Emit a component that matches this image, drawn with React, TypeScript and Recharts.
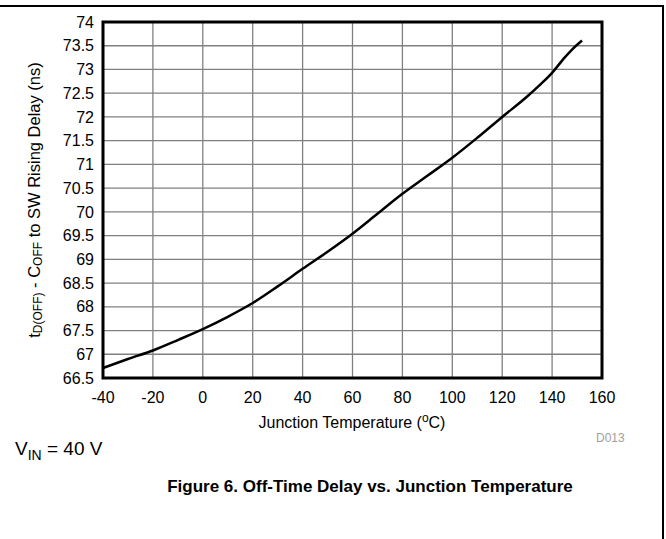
import React from "react";
import {
  LineChart,
  Line,
  XAxis,
  YAxis,
  CartesianGrid,
  ReferenceArea,
  Label,
} from "recharts";

// Off-time delay vs junction temperature
const temps = [-40, -30, -20, -10, 0, 10, 20, 30, 40, 50, 60, 70, 80, 90, 100, 110, 120, 130, 135, 140, 145, 148, 152];
const delays = [66.71, 66.9, 67.08, 67.3, 67.53, 67.79, 68.08, 68.43, 68.8, 69.16, 69.54, 69.96, 70.38, 70.76, 71.14, 71.56, 72.0, 72.43, 72.67, 72.93, 73.25, 73.42, 73.61];

const xTicks = [-40, -20, 0, 20, 40, 60, 80, 100, 120, 140, 160];
const yTicks = [66.5, 67, 67.5, 68, 68.5, 69, 69.5, 70, 70.5, 71, 71.5, 72, 72.5, 73, 73.5, 74];

const data = temps.map((t, i) => ({ t, d: delays[i] }));

const FONT = "'Liberation Sans', Arial, sans-serif";

function YTitle(props: any) {
  const vb = props.viewBox || { x: 0, y: 0, width: 0, height: 0 };
  const cx = vb.x + 34;
  const cy = vb.y + vb.height / 2;
  return (
    <text
      x={cx}
      y={cy}
      transform={`rotate(-90, ${cx}, ${cy})`}
      textAnchor="middle"
      dominantBaseline="central"
      fontFamily={FONT}
      fontSize={16.5}
      fill="#000"
    >
      <tspan>t</tspan>
      <tspan fontSize={12} dy={4}>D(OFF)</tspan>
      <tspan dy={-4}> - C</tspan>
      <tspan fontSize={12} dy={4}>OFF</tspan>
      <tspan dy={-4}> to SW Rising Delay (ns)</tspan>
    </text>
  );
}

export default function App() {
  return (
    <div
      style={{
        position: "absolute",
        left: 0,
        top: 0,
        width: 666,
        height: 539,
        background: "#fff",
        fontFamily: FONT,
        overflow: "hidden",
      }}
    >
      {/* page frame */}
      <div style={{ position: "absolute", left: 0, top: 5, width: 664, height: 2, background: "#000" }} />
      <div style={{ position: "absolute", left: 662, top: 5, width: 2, height: 534, background: "#000" }} />

      <LineChart
        width={666}
        height={430}
        data={data}
        margin={{ top: 22, right: 64, left: 0, bottom: 22 }}
      >
        <CartesianGrid stroke="#808080" strokeWidth={1.3} />
        <XAxis
          dataKey="t"
          type="number"
          domain={[-40, 160]}
          ticks={xTicks}
          axisLine={false}
          tickLine={false}
          tickMargin={8}
          height={30}
          tick={{ fill: "#000", fontSize: 16, fontFamily: FONT }}
          interval={0}
        />
        <YAxis
          type="number"
          domain={[66.5, 74]}
          ticks={yTicks}
          axisLine={false}
          tickLine={false}
          tickMargin={3}
          width={103}
          tick={{ fill: "#000", fontSize: 16, fontFamily: FONT }}
          interval={0}
        >
          <Label content={<YTitle />} position="insideLeft" />
        </YAxis>
        <ReferenceArea
          x1={-40}
          x2={160}
          y1={66.5}
          y2={74}
          fill="none"
          stroke="#000"
          strokeWidth={3}
          fillOpacity={0}
        />
        <Line
          dataKey="d"
          type="monotone"
          stroke="#000"
          strokeWidth={2.5}
          dot={false}
          isAnimationActive={false}
        />
      </LineChart>

      <div
        style={{
          position: "absolute",
          left: 102,
          width: 500,
          top: 411,
          textAlign: "center",
          fontSize: 16,
          color: "#000",
        }}
      >
        Junction Temperature (<sup style={{ fontSize: 12 }}>o</sup>C)
      </div>
      <div style={{ position: "absolute", left: 596, top: 431, fontSize: 12, color: "#a0a0a0" }}>D013</div>
      <div style={{ position: "absolute", left: 15, top: 438, fontSize: 19, color: "#000" }}>
        V<sub style={{ fontSize: 14 }}>IN</sub> = 40 V
      </div>
      <div
        style={{
          position: "absolute",
          left: 0,
          width: 740,
          top: 477,
          textAlign: "center",
          fontSize: 17,
          fontWeight: "bold",
          color: "#000",
        }}
      >
        Figure 6. Off-Time Delay vs. Junction Temperature
      </div>
    </div>
  );
}
